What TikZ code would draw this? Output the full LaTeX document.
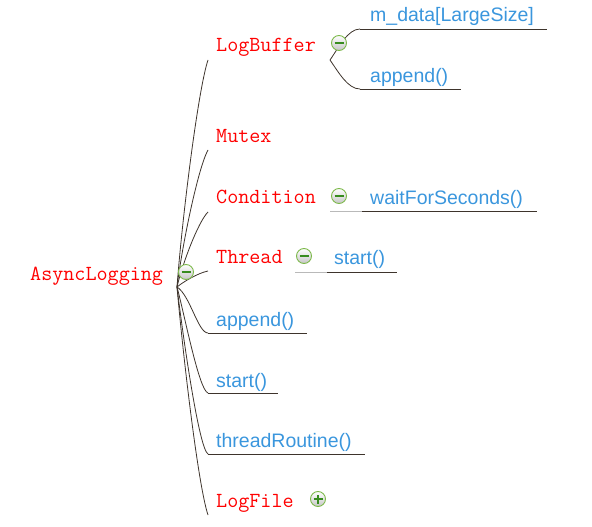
\documentclass[tikz,border=0pt]{standalone}
\usepackage{fontspec}
\newfontfamily\leaffont{Liberation Sans}
\definecolor{topicred}{RGB}{255,0,0}
\definecolor{leafblue}{RGB}{58,150,221}
\definecolor{branch}{RGB}{62,52,44}
\definecolor{btngreen}{RGB}{125,185,75}
\definecolor{signgreen}{RGB}{55,140,30}
\tikzset{
  topic/.style={anchor=base west, inner sep=0pt, text=topicred, font=\fontsize{21.5}{24}\selectfont\ttfamily},
  leaf/.style={anchor=base west, inner sep=0pt, text=leafblue, font=\fontsize{19.5}{22}\selectfont\leaffont},
  branchline/.style={draw=branch, line width=0.8pt},
  uline/.style={draw=branch, line width=0.9pt},
  ulinelight/.style={draw=gray!55, line width=0.9pt},
  btn/.style={circle, minimum size=15pt, inner sep=0pt, draw=btngreen, line width=0.9pt, top color=white, bottom color=gray!45},
  sign/.style={draw=signgreen, line width=1.2pt},
}
\begin{document}
\begin{tikzpicture}[x=1pt,y=-1pt]
\useasboundingbox (0,0) rectangle (592,527);
% root
\node[topic] (root) at (30,280) {AsyncLogging};
\coordinate (hub) at (177,287);
% first level topics
\node[topic] (logbuffer) at (216,52) {LogBuffer};
\coordinate (logbufferE) at (208,60);
\node[topic] (mutex) at (216,142) {Mutex};
\coordinate (mutexE) at (208,150);
\node[topic] (condition) at (216,203) {Condition};
\coordinate (conditionE) at (208,212);
\node[topic] (thread) at (216,263) {Thread};
\coordinate (threadE) at (208,271);
\node[leaf] (append) at (216,326) {append()};
\coordinate (appendE) at (208,333);
\coordinate (appendF) at (307,333);
\node[leaf] (start) at (216,387) {start()};
\coordinate (startE) at (208,393);
\coordinate (startF) at (278,393);
\node[leaf] (routine) at (216,447) {threadRoutine()};
\coordinate (routineE) at (208,454);
\coordinate (routineF) at (365,454);
\node[topic] (logfile) at (216,507) {LogFile};
\coordinate (logfileE) at (208,515);
% branches from root
\draw[branchline] (hub) .. controls +(5,-68) and +(-10,30) .. (logbufferE);
\draw[branchline] (hub) .. controls +(5,-41) and +(-10,18) .. (mutexE);
\draw[branchline] (hub) .. controls +(5,-22) and +(-10,10) .. (conditionE);
\draw[branchline] (hub) .. controls +(6,-5) and +(-10,2) .. (threadE);
\draw[branchline] (hub) .. controls +(13,8) and +(-10,0) .. (appendE);
\draw[branchline] (hub) .. controls +(8,30) and +(-9,-3) .. (startE);
\draw[branchline] (hub) .. controls +(6,50) and +(-9,-5) .. (routineE);
\draw[branchline] (hub) .. controls +(6,68) and +(-10,-30) .. (logfileE);
\draw[uline] (appendE) -- (appendF);
\draw[uline] (startE) -- (startF);
\draw[uline] (routineE) -- (routineF);
% LogBuffer children
\coordinate (logbufferJ) at (330,60);
\node[leaf] (mdata) at (370,22) {m\_data[LargeSize]};
\coordinate (mdataS) at (360,29);
\coordinate (mdataF) at (547,29);
\node[leaf] (lbappend) at (370,83) {append()};
\coordinate (lbappendS) at (360,89);
\coordinate (lbappendF) at (461,89);
\draw[branchline] (logbufferJ) .. controls +(9,-13) and +(-12,0) .. (mdataS);
\draw[branchline] (logbufferJ) .. controls +(9,13) and +(-12,0) .. (lbappendS);
\draw[uline] (mdataS) -- (mdataF);
\draw[uline] (lbappendS) -- (lbappendF);
% Condition child
\node[leaf] (wait) at (370,204) {waitForSeconds()};
\coordinate (waitS) at (330,211);
\coordinate (waitM) at (362,211);
\coordinate (waitF) at (537,211);
\draw[ulinelight] (waitS) -- (waitM);
\draw[uline] (waitM) -- (waitF);
% Thread child
\node[leaf] (tstart) at (334,264) {start()};
\coordinate (tstartS) at (295,272);
\coordinate (tstartM) at (327,272);
\coordinate (tstartF) at (397,272);
\draw[ulinelight] (tstartS) -- (tstartM);
\draw[uline] (tstartM) -- (tstartF);
% collapse / expand buttons
\node[btn] (rootbtn) at (186,272) {};
\draw[sign] ([xshift=-4.5pt]rootbtn.center) -- ([xshift=4.5pt]rootbtn.center);
\node[btn] (logbufferbtn) at (339,43) {};
\draw[sign] ([xshift=-4.5pt]logbufferbtn.center) -- ([xshift=4.5pt]logbufferbtn.center);
\node[btn] (conditionbtn) at (339,196) {};
\draw[sign] ([xshift=-4.5pt]conditionbtn.center) -- ([xshift=4.5pt]conditionbtn.center);
\node[btn] (threadbtn) at (304,256) {};
\draw[sign] ([xshift=-4.5pt]threadbtn.center) -- ([xshift=4.5pt]threadbtn.center);
\node[btn] (logfilebtn) at (318,499) {};
\draw[sign] ([xshift=-4.5pt]logfilebtn.center) -- ([xshift=4.5pt]logfilebtn.center);
\draw[sign] ([yshift=-4.5pt]logfilebtn.center) -- ([yshift=4.5pt]logfilebtn.center);
\end{tikzpicture}
\end{document}
